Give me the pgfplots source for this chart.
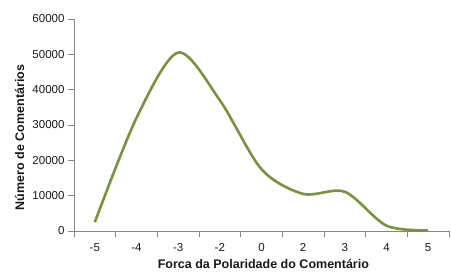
\documentclass[border=0pt]{standalone}
\usepackage{fontspec}
\setmainfont{Liberation Sans}
\usepackage{pgfplots}
\pgfplotsset{compat=1.18}
\definecolor{olivegreen}{RGB}{119,147,60}
\definecolor{axgray}{RGB}{134,134,134}
\begin{document}
\begin{tikzpicture}
\begin{axis}[
  at={(0pt,0pt)}, anchor=south west,
  scale only axis, width=375pt, height=212pt,
  xmin=-0.5, xmax=8.5, ymin=0, ymax=60000,
  axis lines*=left,
  axis line style={axgray, line width=0.8pt},
  tick align=outside,
  xtick={0,...,8},
  xticklabels={-5,-4,-3,-2,0,2,3,4,5},
  minor xtick={-0.5,0.5,...,8.5},
  major x tick style={draw=none},
  minor x tick style={axgray, line width=0.8pt},
  minor tick length=6pt,
  major tick length=6pt,
  ytick={0,10000,...,60000},
  major y tick style={axgray, line width=0.8pt},
  scaled y ticks=false,
  /pgf/number format/assume math mode=true,
  yticklabel style={/pgf/number format/.cd, fixed, 1000 sep={}},
  ticklabel style={font=\fontsize{11.5}{12}\selectfont, text=black!90},
  xticklabel style={yshift=-3pt},
  xlabel={Forca da Polaridade do Comentário},
  ylabel={Número de Comentários},
  label style={font=\fontsize{12.5}{14}\selectfont\bfseries, text=black!90},
  xlabel style={at={(axis description cs:0.505,-0.156)}, anchor=center},
  ylabel style={at={(axis description cs:-0.145,0.441)}, anchor=center},
  clip=false,
]
\addplot[olivegreen, line width=2.6pt, smooth, tension=0.5] coordinates {
  (0,2500) (1,32000) (2,50500) (3,37000) (4,17500) (5,10500) (6,11100) (7,1500) (8,200)
};
\end{axis}
\pgfresetboundingbox
\path[use as bounding box] (-74pt,-41pt) rectangle (377pt,231pt);
\end{tikzpicture}
\end{document}
